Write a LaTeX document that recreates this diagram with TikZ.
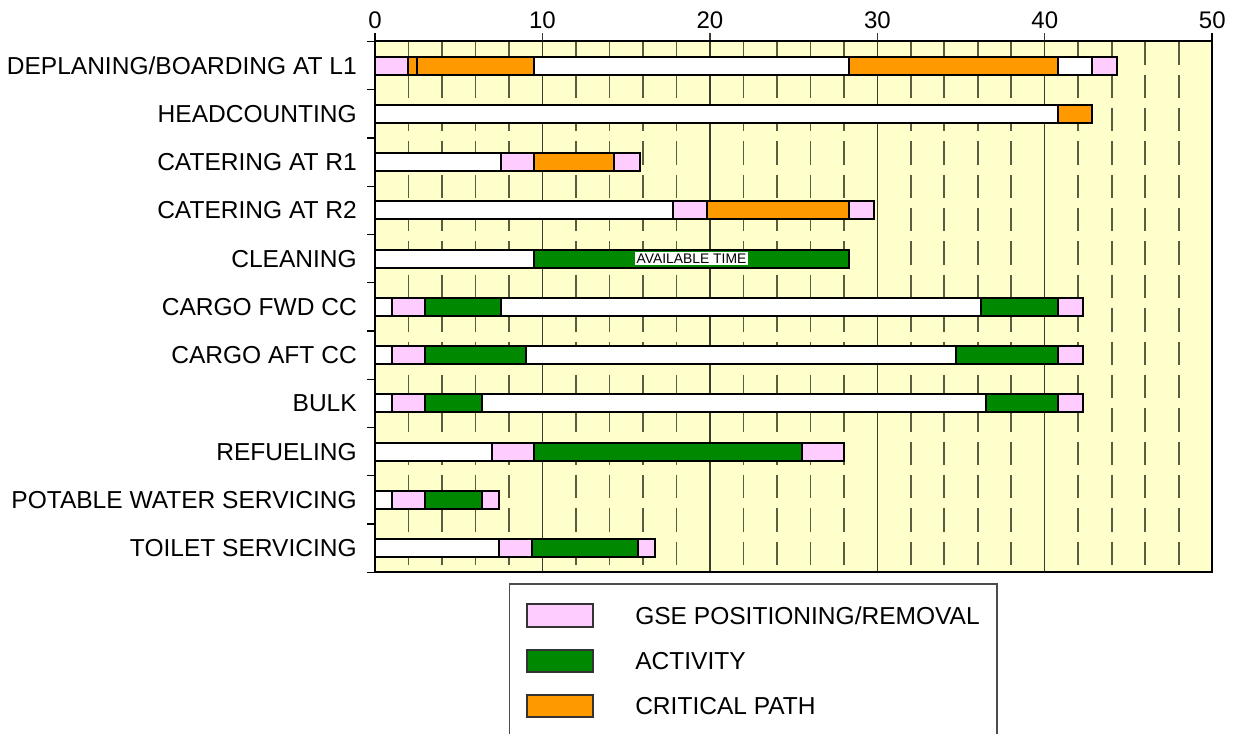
\documentclass[tikz,border=0pt]{standalone}
\usepackage{fontspec}
\setmainfont{Liberation Sans}
\definecolor{chartbg}{HTML}{FFFFCC}
\definecolor{gsepink}{HTML}{FFCCFF}
\definecolor{actgreen}{HTML}{008800}
\definecolor{critorange}{HTML}{FF9900}
\definecolor{gridolive}{HTML}{5C5C40}
\definecolor{gridmajor}{HTML}{3C3C30}
\tikzset{
  rowlabel/.style={anchor=east, inner sep=0pt, font=\fontsize{18.4}{20}\selectfont},
  axisnum/.style={anchor=center, inner sep=0pt, font=\fontsize{18}{20}\selectfont},
  legtext/.style={anchor=west, inner sep=0pt, font=\fontsize{18.4}{20}\selectfont},
  barseg/.style={draw=black, line width=1.5pt},
  minorgrid/.style={draw=gridolive, line width=1.3pt, dash pattern=on 17.5pt off 7.5pt},
  majorgrid/.style={draw=gridmajor, line width=0.9pt},
  swatch/.style={draw=black!80, line width=0.8pt},
}
\begin{document}
\begin{tikzpicture}[x=0.75pt, y=-0.75pt]
\useasboundingbox (0,0) rectangle (1234,734);
\clip (0,0) rectangle (1234,734);

% chart area: x in minutes (0..50), y in pixels
\begin{scope}[xshift=281.25pt, x={(12.559pt,0)}]
  \fill[chartbg] (0,41.5) rectangle (50,572);
  % minor grid every 2 minutes
  \foreach \v in {2,4,6,8,12,14,16,18,22,24,26,28,32,34,36,38,42,44,46,48}
    \draw[minorgrid] (\v,41.5) -- (\v,572);
  % major grid every 10 minutes
  \foreach \v in {10,20,30,40}
    \draw[majorgrid] (\v,33) -- (\v,572);
  % time scale
  \foreach \v in {0,10,20,30,40,50}
    \node[axisnum] (num\v) at (\v,20) {\v};

  % bar segments: row / start / end / colour
  \foreach \r/\a/\b/\c in {
    1/0/2/gsepink, 1/2/2.5/critorange, 1/2.5/9.5/critorange, 1/9.5/28.3/white,
    1/28.3/40.8/critorange, 1/40.8/42.8/white, 1/42.8/44.3/gsepink,
    2/0/40.8/white, 2/40.8/42.8/critorange,
    3/0/7.5/white, 3/7.5/9.5/gsepink, 3/9.5/14.3/critorange, 3/14.3/15.8/gsepink,
    4/0/17.8/white, 4/17.8/19.8/gsepink, 4/19.8/28.3/critorange, 4/28.3/29.8/gsepink,
    5/0/9.5/white, 5/9.5/28.3/actgreen,
    6/0/1/white, 6/1/3/gsepink, 6/3/7.5/actgreen, 6/7.5/36.2/white,
    6/36.2/40.8/actgreen, 6/40.8/42.3/gsepink,
    7/0/1/white, 7/1/3/gsepink, 7/3/9/actgreen, 7/9/34.7/white,
    7/34.7/40.8/actgreen, 7/40.8/42.3/gsepink,
    8/0/1/white, 8/1/3/gsepink, 8/3/6.4/actgreen, 8/6.4/36.5/white,
    8/36.5/40.8/actgreen, 8/40.8/42.3/gsepink,
    9/0/7/white, 9/7/9.5/gsepink, 9/9.5/25.5/actgreen, 9/25.5/28/gsepink,
    10/0/1/white, 10/1/3/gsepink, 10/3/6.4/actgreen, 10/6.4/7.4/gsepink,
    11/0/7.4/white, 11/7.4/9.4/gsepink, 11/9.4/15.7/actgreen, 11/15.7/16.7/gsepink}
    \filldraw[barseg, fill=\c] (\a,{17.375+48.25*\r-9}) rectangle (\b,{17.375+48.25*\r+9});

  \node[fill=white, inner sep=1pt, font=\fontsize{10.4}{11}\selectfont] (avail)
    at (18.9,258.6) {AVAILABLE TIME};

  % frame and row ticks
  \draw[black, line width=1.5pt] (0,41.5) rectangle (50,572);
  \draw[black, line width=1.2pt] (0,33) -- (0,41.5) (50,33) -- (50,41.5);
  \foreach \k in {0,...,11}
    \draw[black, line width=1pt] (-0.45,{41.5+48.25*\k}) -- (0,{41.5+48.25*\k});
\end{scope}

% activity labels
\foreach \r/\t in {1/{DEPLANING/BOARDING AT L1}, 2/HEADCOUNTING, 3/CATERING AT R1,
    4/CATERING AT R2, 5/CLEANING, 6/CARGO FWD CC, 7/CARGO AFT CC, 8/BULK,
    9/REFUELING, 10/POTABLE WATER SERVICING, 11/TOILET SERVICING}
  \node[rowlabel] (lab\r) at (357,{17.375+48.25*\r}) {\t};

% legend
\draw[draw=black!70, line width=0.8pt, fill=white] (509.5,584) rectangle (997,760);
\filldraw[swatch, fill=gsepink] (527,604) rectangle (593,627);
\filldraw[swatch, fill=actgreen] (527,650) rectangle (593,672);
\filldraw[swatch, fill=critorange] (527,695) rectangle (593,717);
\node[legtext] (leggse) at (635,616) {GSE POSITIONING/REMOVAL};
\node[legtext] (legact) at (635,661.5) {ACTIVITY};
\node[legtext] (legcrit) at (635,706) {CRITICAL PATH};
\end{tikzpicture}
\end{document}
